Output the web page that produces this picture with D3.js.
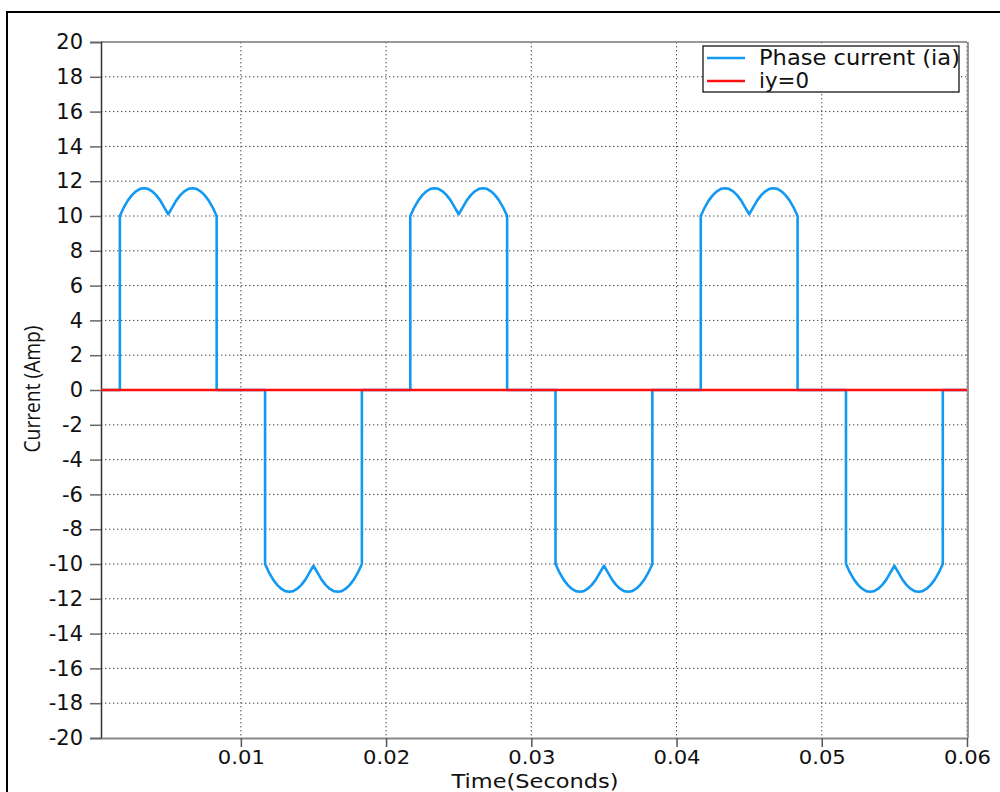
<!DOCTYPE html>
<html>
<head>
<meta charset="utf-8">
<script src="https://cdn.jsdelivr.net/npm/d3@7"></script>
<style>
  body { margin: 0; background: #fff; }
  text { font-family: "DejaVu Sans", Verdana, sans-serif; fill: #111; }
  .grid line { stroke: #444; stroke-dasharray: 1.4,2.6; stroke-width: 1; }
</style>
</head>
<body>
<div id="chart"></div>
<script>
// ---- data ----
// one pulse profile: time offset from pulse start (ms) and magnitude (A)
const pulseOffsetsMs = [0, 0.278, 0.556, 0.833, 1.111, 1.389, 1.667, 1.944, 2.222, 2.5, 2.778, 3.056, 3.333,
                        3.611, 3.889, 4.167, 4.444, 4.722, 5.0, 5.278, 5.556, 5.833, 6.111, 6.389, 6.667];
const pulseValues = [10.0, 10.5, 10.9, 11.2, 11.42, 11.56, 11.6, 11.56, 11.42, 11.2, 10.9, 10.5, 10.1,
                     10.5, 10.9, 11.2, 11.42, 11.56, 11.6, 11.56, 11.42, 11.2, 10.9, 10.5, 10.0];
// pulse start times (s) and sign
const pulseStarts = [0.001667, 0.011667, 0.021667, 0.031667, 0.041667, 0.051667];
const pulseSigns = [1, -1, 1, -1, 1, -1];
const timeRange = [0.00037, 0.06];
const xTicks = [0.01, 0.02, 0.03, 0.04, 0.05, 0.06];
const yTicks = d3.range(-20, 21, 2);
const seriesNames = ["Phase current (ia)", "iy=0"];
const seriesColors = ["#1499f2", "#ff1010"];

// build phase current series
let phaseCurrent = [[timeRange[0], 0]];
pulseStarts.forEach((t0, i) => {
    phaseCurrent.push([t0, 0]);
    pulseOffsetsMs.forEach((dt, j) => phaseCurrent.push([t0 + dt / 1000, pulseSigns[i] * pulseValues[j]]));
    phaseCurrent.push([t0 + pulseOffsetsMs[pulseOffsetsMs.length - 1] / 1000, 0]);
});
phaseCurrent.push([timeRange[1], 0]);
const zeroLine = [[timeRange[0], 0], [timeRange[1], 0]];

const W = 1000, H = 792;
const margin = { top: 42, right: 33, bottom: 54, left: 101 };
const width = W - margin.left - margin.right;
const height = H - margin.top - margin.bottom;

const svg = d3.select("#chart").append("svg")
    .attr("width", W)
    .attr("height", H);

// outer frame
svg.append("rect")
    .attr("x", 7).attr("y", 12)
    .attr("width", 1010).attr("height", 800)
    .attr("fill", "none").attr("stroke", "#000").attr("stroke-width", 2);

const g = svg.append("g").attr("transform", `translate(${margin.left},${margin.top})`);

const x = d3.scaleLinear().domain(timeRange).range([0, width]);
const y = d3.scaleLinear().domain([-20, 20]).range([height, 0]);

// grid
const grid = g.append("g").attr("class", "grid");
grid.selectAll(".gx").data(xTicks).enter().append("line")
    .attr("x1", d => x(d)).attr("x2", d => x(d))
    .attr("y1", 0).attr("y2", height);
grid.selectAll(".gy").data(yTicks.filter(d => d > -20 && d < 20)).enter().append("line")
    .attr("x1", 0).attr("x2", width)
    .attr("y1", d => y(d)).attr("y2", d => y(d));

// plot frame (top / right)
g.append("line").attr("x1", 0).attr("x2", width).attr("y1", 0).attr("y2", 0)
    .attr("stroke", "#777").attr("stroke-width", 1.5);
g.append("line").attr("x1", width + 1).attr("x2", width + 1).attr("y1", 0).attr("y2", height)
    .attr("stroke", "#777").attr("stroke-width", 1.5);

// axes
const yAxis = g.append("g")
    .call(d3.axisLeft(y).tickValues(yTicks).tickSize(11).tickPadding(7).tickFormat(d => String(d)));
yAxis.select(".domain").attr("stroke", "#333").attr("stroke-width", 1.5);
yAxis.selectAll(".tick line").attr("stroke", "#666").attr("stroke-width", 1.5);
yAxis.selectAll("text").attr("font-size", 21).attr("font-family", "DejaVu Sans").attr("fill", "#111");

const xAxis = g.append("g")
    .attr("transform", `translate(0,${height})`)
    .call(d3.axisBottom(x).tickValues(xTicks).tickSize(9).tickPadding(3).tickSizeOuter(0)
        .tickFormat(d3.format(".2f")));
xAxis.select(".domain").attr("stroke", "#888").attr("stroke-width", 2);
xAxis.selectAll(".tick line").attr("stroke", "#555").attr("stroke-width", 1.5);
xAxis.selectAll("text").attr("font-size", 20).attr("font-family", "DejaVu Sans").attr("fill", "#111")
    .attr("textLength", 47).attr("lengthAdjust", "spacingAndGlyphs");

// axis titles
svg.append("text")
    .attr("x", 535).attr("y", 788)
    .attr("text-anchor", "middle")
    .attr("font-size", 19)
    .attr("textLength", 167).attr("lengthAdjust", "spacingAndGlyphs")
    .text("Time(Seconds)");

svg.append("text")
    .attr("transform", "translate(40,389) rotate(-90)")
    .attr("text-anchor", "middle")
    .attr("font-size", 22)
    .attr("textLength", 127).attr("lengthAdjust", "spacingAndGlyphs")
    .style("font-family", "'Open Sans', 'Noto Sans', sans-serif")
    .text("Current (Amp)");

// lines
const line = d3.line().x(d => x(d[0])).y(d => y(d[1]));

g.append("path")
    .datum(phaseCurrent)
    .attr("fill", "none")
    .attr("stroke", seriesColors[0])
    .attr("stroke-width", 2.6)
    .attr("stroke-linejoin", "round")
    .attr("d", line);

g.append("path")
    .datum(zeroLine)
    .attr("fill", "none")
    .attr("stroke", seriesColors[1])
    .attr("stroke-width", 2.5)
    .attr("d", line);

// legend
const legend = svg.append("g").attr("transform", "translate(703,46)");
legend.append("rect")
    .attr("width", 256).attr("height", 46)
    .attr("fill", "#fff").attr("stroke", "#000").attr("stroke-width", 1.2);
const legendWidths = [201, 50];
seriesNames.forEach((name, i) => {
    legend.append("line")
        .attr("x1", 4).attr("x2", 42)
        .attr("y1", 12 + i * 23).attr("y2", 12 + i * 23)
        .attr("stroke", seriesColors[i]).attr("stroke-width", 2.4);
    legend.append("text")
        .attr("x", 56).attr("y", 19 + i * 23)
        .attr("font-size", 21)
        .attr("textLength", legendWidths[i]).attr("lengthAdjust", "spacingAndGlyphs")
        .text(name);
});
</script>
</body>
</html>
